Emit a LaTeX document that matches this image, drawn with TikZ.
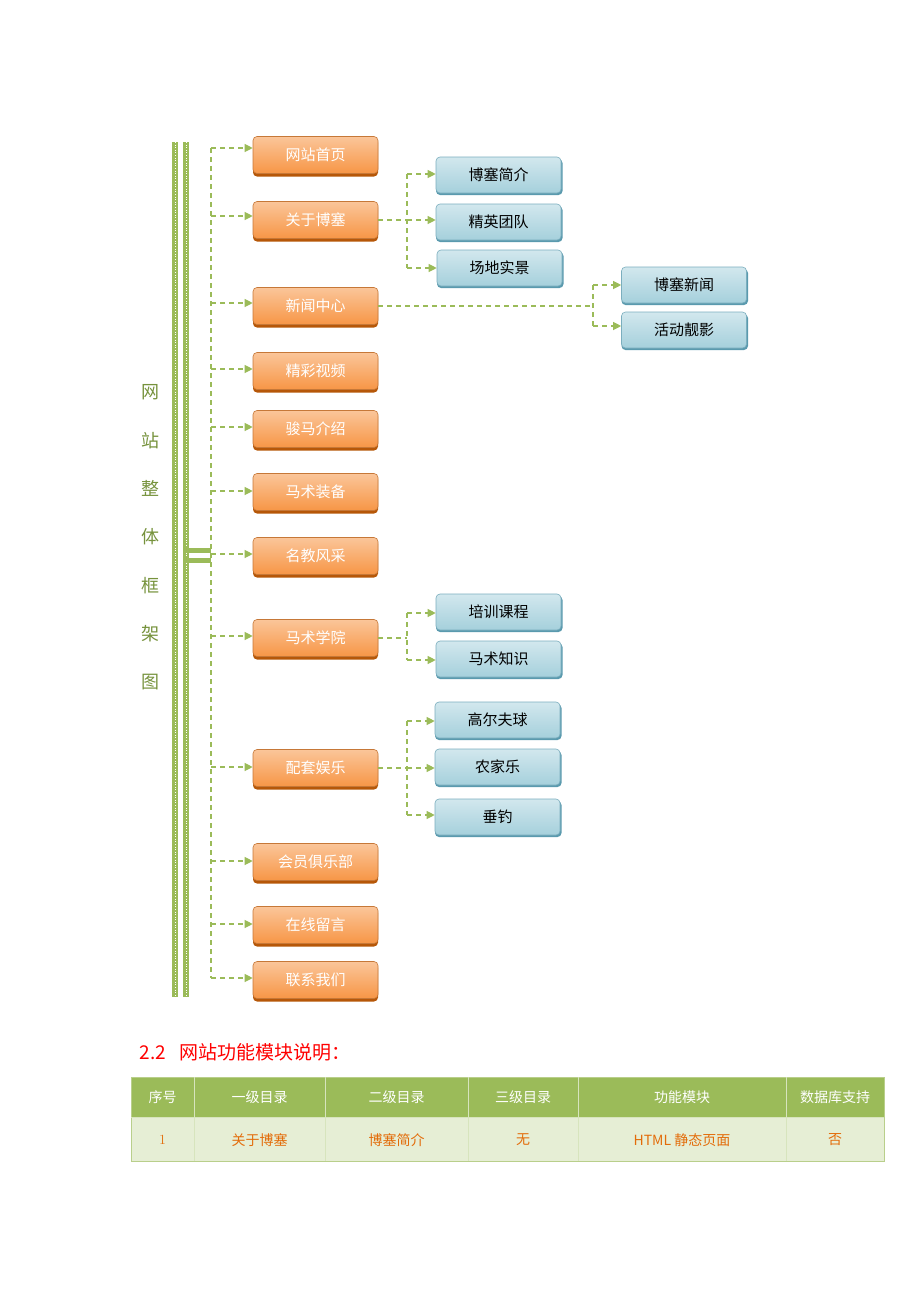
\documentclass[tikz,border=0pt]{standalone}
\usepackage{fontspec}
\newfontfamily\cjk{Noto Sans CJK SC}
\usetikzlibrary{arrows.meta}
\definecolor{gr}{HTML}{9BBB59}
\definecolor{olive}{HTML}{76923C}
\definecolor{org}{HTML}{F79646}
\definecolor{orgd}{HTML}{B65708}
\definecolor{bl}{HTML}{A5D0DC}
\definecolor{bld}{HTML}{5A9AAE}
\definecolor{tx}{HTML}{E36C0A}
\tikzset{
 x=1pt,y=-1pt,
 obox/.style={rounded corners=4pt,minimum width=125pt,minimum height=37pt,top color=org!55,bottom color=org,draw=org!80!black,line width=0.6pt,text=white,font=\cjk\fontsize{15}{15}\selectfont},
 bbox/.style={rounded corners=4pt,minimum width=125pt,minimum height=36pt,top color=bl!50,bottom color=bl,draw=bld!80,line width=0.6pt,text=black,font=\cjk\fontsize{15}{15}\selectfont},
 con/.style={gr,dashed,dash pattern=on 5pt off 4pt,line width=1.1pt,-{Triangle[length=8pt,width=8pt]}},
 conn/.style={gr,dashed,dash pattern=on 5pt off 4pt,line width=1.1pt},
 cell/.style={minimum height=40pt,font=\cjk\fontsize{14}{14}\selectfont},
}
\newcommand{\obx}[3]{\fill[orgd,rounded corners=4pt] (253,{#1-16.5}) rectangle (378,{#1+21.5});
 \node[obox] (#2) at (315.5,#1) {#3};}
\newcommand{\bbx}[4]{\fill[bld,rounded corners=4pt] ({#1-62.5},{#2-16}) rectangle ({#1+64},{#2+20});
 \node[bbox] (#3) at (#1,#2) {#4};}
\begin{document}
\begin{tikzpicture}
\useasboundingbox (0,0) rectangle (920,1302);
% vertical bars
\foreach \x in {175,186}{\fill[gr] (\x-3,142) rectangle (\x+3,997);
 \draw[white,dotted,line width=0.6pt] (\x,142) -- (\x,997);}
\foreach \y in {550,560}{\fill[gr] (186,\y-2.5) rectangle (211,\y+2.5);}
\draw[conn] (211,148) -- (211,978);
% title
\foreach \c [count=\i from 0] in {网,站,整,体,框,架,图}
 \node[olive,font=\cjk\fontsize{18}{18}\selectfont] (t\i) at (150,{392+48.3*\i}) {\c};
% orange boxes
\obx{155}{a1}{网站首页}
\obx{220}{a2}{关于博塞}
\obx{306}{a3}{新闻中心}
\obx{371}{a4}{精彩视频}
\obx{429}{a5}{骏马介绍}
\obx{492}{a6}{马术装备}
\obx{556}{a7}{名教风采}
\obx{638}{a8}{马术学院}
\obx{768}{a9}{配套娱乐}
\obx{862}{a10}{会员俱乐部}
\obx{925}{a11}{在线留言}
\obx{980}{a12}{联系我们}
\foreach \n/\y in {a1/148,a2/216,a3/303,a4/369,a5/427,a6/491,a7/554,a8/636,a9/767,a10/861,a11/924,a12/978}{
 \coordinate (s\n) at (211,\y);
 \draw[con] (s\n) -- (\n.west |- s\n);}
% blue boxes
\bbx{498.5}{175}{b1}{博塞简介}
\bbx{498.5}{222}{b2}{精英团队}
\bbx{499.5}{268}{b3}{场地实景}
\bbx{684}{285}{c1}{博塞新闻}
\bbx{684}{330}{c2}{活动靓影}
\bbx{498.5}{612}{d1}{培训课程}
\bbx{498.5}{659}{d2}{马术知识}
\bbx{497.5}{720}{e1}{高尔夫球}
\bbx{497.5}{767}{e2}{农家乐}
\bbx{497.5}{817}{e3}{垂钓}
% branch connectors
\coordinate (j1) at (407,220);
\draw[conn] (a2.east) -- (j1);
\draw[conn] (407,174) -- (407,268);
\foreach \b/\y in {b1/174,b2/220,b3/268}{\coordinate (k\b) at (407,\y);\draw[con] (k\b) -- (\b.west |- k\b);}
\coordinate (j2) at (593,306);
\draw[conn] (a3.east) -- (j2);
\draw[conn] (593,285) -- (593,326);
\foreach \b/\y in {c1/285,c2/326}{\coordinate (k\b) at (593,\y);\draw[con] (k\b) -- (\b.west |- k\b);}
\coordinate (j3) at (407,638);
\draw[conn] (a8.east) -- (j3);
\draw[conn] (407,613) -- (407,660);
\foreach \b/\y in {d1/613,d2/660}{\coordinate (k\b) at (407,\y);\draw[con] (k\b) -- (\b.west |- k\b);}
\coordinate (j4) at (407,768);
\draw[conn] (a9.east) -- (j4);
\draw[conn] (407,721) -- (407,815);
\foreach \b/\y in {e1/721,e2/768,e3/815}{\coordinate (k\b) at (407,\y);\draw[con] (k\b) -- (\b.west |- k\b);}
% heading
\node[anchor=west,red,font=\cjk\fontsize{19}{19}\selectfont] (h) at (136,1052) {2.2\hspace{14pt}网站功能模块说明：};
% table
\fill[gr] (131,1077) rectangle (884,1117);
\fill[gr!25!white] (131,1117) rectangle (884,1161);
\draw[gr!70!white,line width=1pt] (131,1077) rectangle (884,1161);
\draw[gr!40!white,line width=1pt] (131,1117) -- (884,1117);
\foreach \x in {194,325,468,578,786}{\draw[gr!40!white,line width=1pt] (\x,1077) -- (\x,1161);}
\foreach \a/\b/\h/\r [count=\i] in {131/194/序号/{\rmfamily 1},194/325/一级目录/关于博塞,325/468/二级目录/博塞简介,468/578/三级目录/无,578/786/功能模块/{HTML 静态页面},786/884/数据库支持/否}{
 \node[cell,white] (th\i) at ({(\a+\b)/2},1097) {\h};
 \node[cell,tx] (td\i) at ({(\a+\b)/2},1140) {\r};}
\end{tikzpicture}
\end{document}
